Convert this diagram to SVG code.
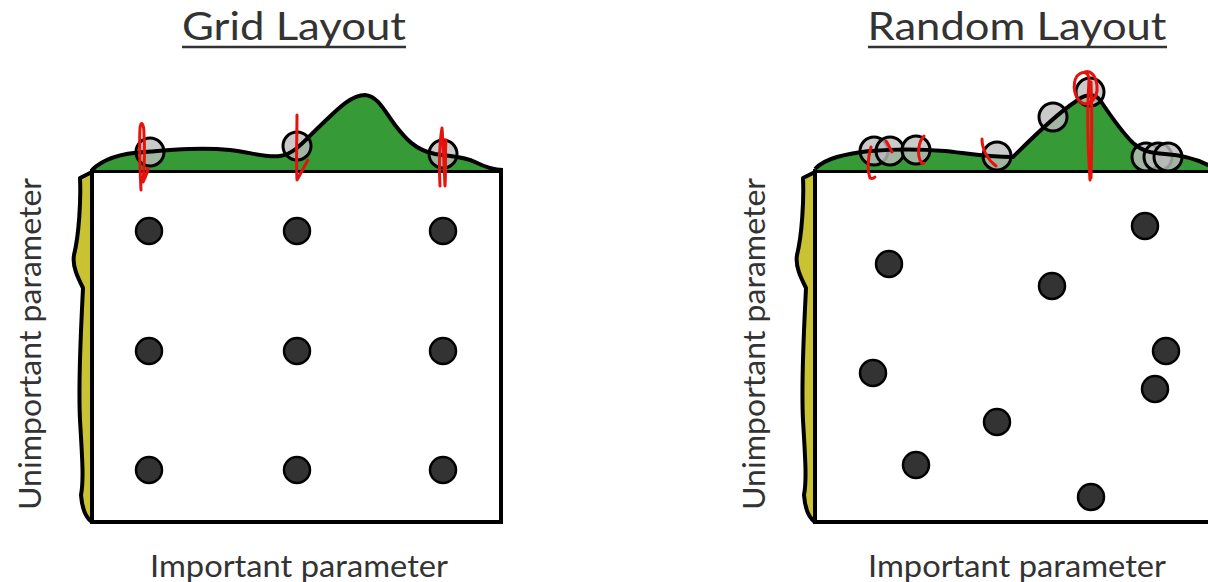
<svg xmlns="http://www.w3.org/2000/svg" width="1208" height="582" viewBox="0 0 1208 582">
<style>
.title{font-family:Lato,"DejaVu Sans",sans-serif;font-size:38px;fill:#333}
.lab{font-family:Lato,"DejaVu Sans",sans-serif;font-size:30px;fill:#333}
.box{fill:#fff;stroke:#000;stroke-width:4}
.dens{fill:#369a36;stroke:none}
.densl{fill:none;stroke:#000;stroke-width:4;stroke-linejoin:round}
.yel{fill:#c9c232;stroke:#000;stroke-width:4;stroke-linejoin:round}
.pt{fill:#333;stroke:#000;stroke-width:2.5}
.gp{fill:#bdbdbd;fill-opacity:0.8;stroke:#000;stroke-width:3}
.red{fill:none;stroke:#e8120c;stroke-width:3;stroke-linecap:round;stroke-linejoin:round}
</style>
<rect width="1208" height="582" fill="#fff"/>
<g id="grid-panel">
<text class="title" x="294" y="40" text-anchor="middle" textLength="224" lengthAdjust="spacingAndGlyphs">Grid Layout</text>
<line x1="182" y1="47" x2="406" y2="47" stroke="#333" stroke-width="2.5"/>
<rect class="box" x="92" y="171" width="409" height="351"/>
<path class="dens" d="M92,170 C105,157 125,153 145,152 C170,150 200,147 230,150 C250,152 265,158 280,156 C295,154 305,140 320,126 C335,112 350,95 365,95 C378,96 385,112 395,125 C405,138 415,150 435,154 C455,157 465,157 475,162 C485,167 495,170 501,170 Z"/>
<circle class="gp" cx="150" cy="152" r="14"/>
<circle class="gp" cx="297" cy="146" r="14"/>
<circle class="gp" cx="443" cy="154" r="14"/>
<path class="densl" d="M92,170 C105,157 125,153 145,152 C170,150 200,147 230,150 C250,152 265,158 280,156 C295,154 305,140 320,126 C335,112 350,95 365,95 C378,96 385,112 395,125 C405,138 415,150 435,154 C455,157 465,157 475,162 C485,167 495,170 503,170"/>
<path class="yel" d="M92,172 L80,178 C81,200 79,235 74,255 C72,266 78,278 83,288 C81,330 78,380 80,420 C82,455 84,480 81,495 C82,508 86,518 92,522 Z"/>
<circle class="pt" cx="149" cy="231" r="13"/>
<circle class="pt" cx="297" cy="231" r="13"/>
<circle class="pt" cx="443" cy="231" r="13"/>
<circle class="pt" cx="149" cy="351" r="13"/>
<circle class="pt" cx="297" cy="351" r="13"/>
<circle class="pt" cx="443" cy="351" r="13"/>
<circle class="pt" cx="149" cy="470" r="13"/>
<circle class="pt" cx="297" cy="470" r="13"/>
<circle class="pt" cx="443" cy="470" r="13"/>
<path class="red" d="M141,190 C140,170 139,150 140,128 C141,120 144,123 144,135 C145,150 144,170 143,182 C145,178 148,172 148,168"/>
<path class="red" d="M297,115 C297,135 296,160 297,180 C300,175 305,165 308,160"/>
<path class="red" d="M440,186 C439,165 440,140 442,128 C443,140 444,165 445,186 C446,170 445,150 446,140"/>
<text class="lab" x="299" y="577" text-anchor="middle" textLength="298" lengthAdjust="spacingAndGlyphs">Important parameter</text>
<text class="lab" transform="translate(41,344) rotate(-90)" text-anchor="middle" textLength="332" lengthAdjust="spacingAndGlyphs">Unimportant parameter</text>
</g>
<g id="random-panel">
<text class="title" x="1017" y="40" text-anchor="middle" textLength="299" lengthAdjust="spacingAndGlyphs">Random Layout</text>
<line x1="868" y1="47" x2="1167" y2="47" stroke="#333" stroke-width="2.5"/>
<rect class="box" x="815" y="171" width="420" height="351"/>
<path class="dens" d="M815,169 C825,158 845,154 870,151 C895,149 920,149 945,151 C965,153 985,157 1013,157 C1030,140 1055,115 1075,102 C1083,95 1093,92 1100,100 C1110,115 1122,132 1133,143 C1142,151 1150,153 1165,154 C1180,155 1195,158 1210,166 L1210,170 L815,170 Z"/>
<circle class="gp" cx="874" cy="151" r="14"/>
<circle class="gp" cx="890" cy="151" r="14"/>
<circle class="gp" cx="916" cy="150" r="14"/>
<circle class="gp" cx="997" cy="156" r="14"/>
<circle class="gp" cx="1053" cy="117" r="14"/>
<circle class="gp" cx="1090" cy="92" r="14"/>
<circle class="gp" cx="1146" cy="157" r="14"/>
<circle class="gp" cx="1158" cy="157" r="14"/>
<circle class="gp" cx="1168" cy="157" r="14"/>
<path class="densl" d="M815,169 C825,158 845,154 870,151 C895,149 920,149 945,151 C965,153 985,157 1013,157 C1030,140 1055,115 1075,102 C1083,95 1093,92 1100,100 C1110,115 1122,132 1133,143 C1142,151 1150,153 1165,154 C1180,155 1195,158 1210,166"/>
<path class="yel" d="M815,172 L803,178 C804,200 802,235 797,255 C795,266 801,278 806,288 C804,330 801,380 803,420 C805,455 807,480 804,495 C805,508 809,518 815,522 Z"/>
<circle class="pt" cx="889" cy="264" r="13"/>
<circle class="pt" cx="1145" cy="226" r="13"/>
<circle class="pt" cx="1052" cy="286" r="13"/>
<circle class="pt" cx="873" cy="373" r="13"/>
<circle class="pt" cx="1166" cy="351" r="13"/>
<circle class="pt" cx="1155" cy="389" r="13"/>
<circle class="pt" cx="997" cy="422" r="13"/>
<circle class="pt" cx="916" cy="465" r="13"/>
<circle class="pt" cx="1091" cy="497" r="13"/>
<path class="red" d="M871,147 C868,158 867,170 870,178 C872,179 874,178 875,177"/>
<path class="red" d="M886,141 C888,144 890,148 892,152"/>
<path class="red" d="M924,136 C918,142 917,155 921,162 C922,164 923,164 924,163"/>
<path class="red" d="M982,139 C982,150 988,160 996,166"/>
<path class="red" d="M1090,180 C1088,150 1087,110 1089,80 C1089,72 1083,70 1077,76 C1072,84 1074,98 1082,103 C1090,106 1098,98 1097,86 C1096,75 1090,70 1085,72 M1091,82 C1092,110 1092,145 1091,178"/>
<text class="lab" x="1017" y="577" text-anchor="middle" textLength="298" lengthAdjust="spacingAndGlyphs">Important parameter</text>
<text class="lab" transform="translate(765,344) rotate(-90)" text-anchor="middle" textLength="332" lengthAdjust="spacingAndGlyphs">Unimportant parameter</text>
</g>
</svg>
